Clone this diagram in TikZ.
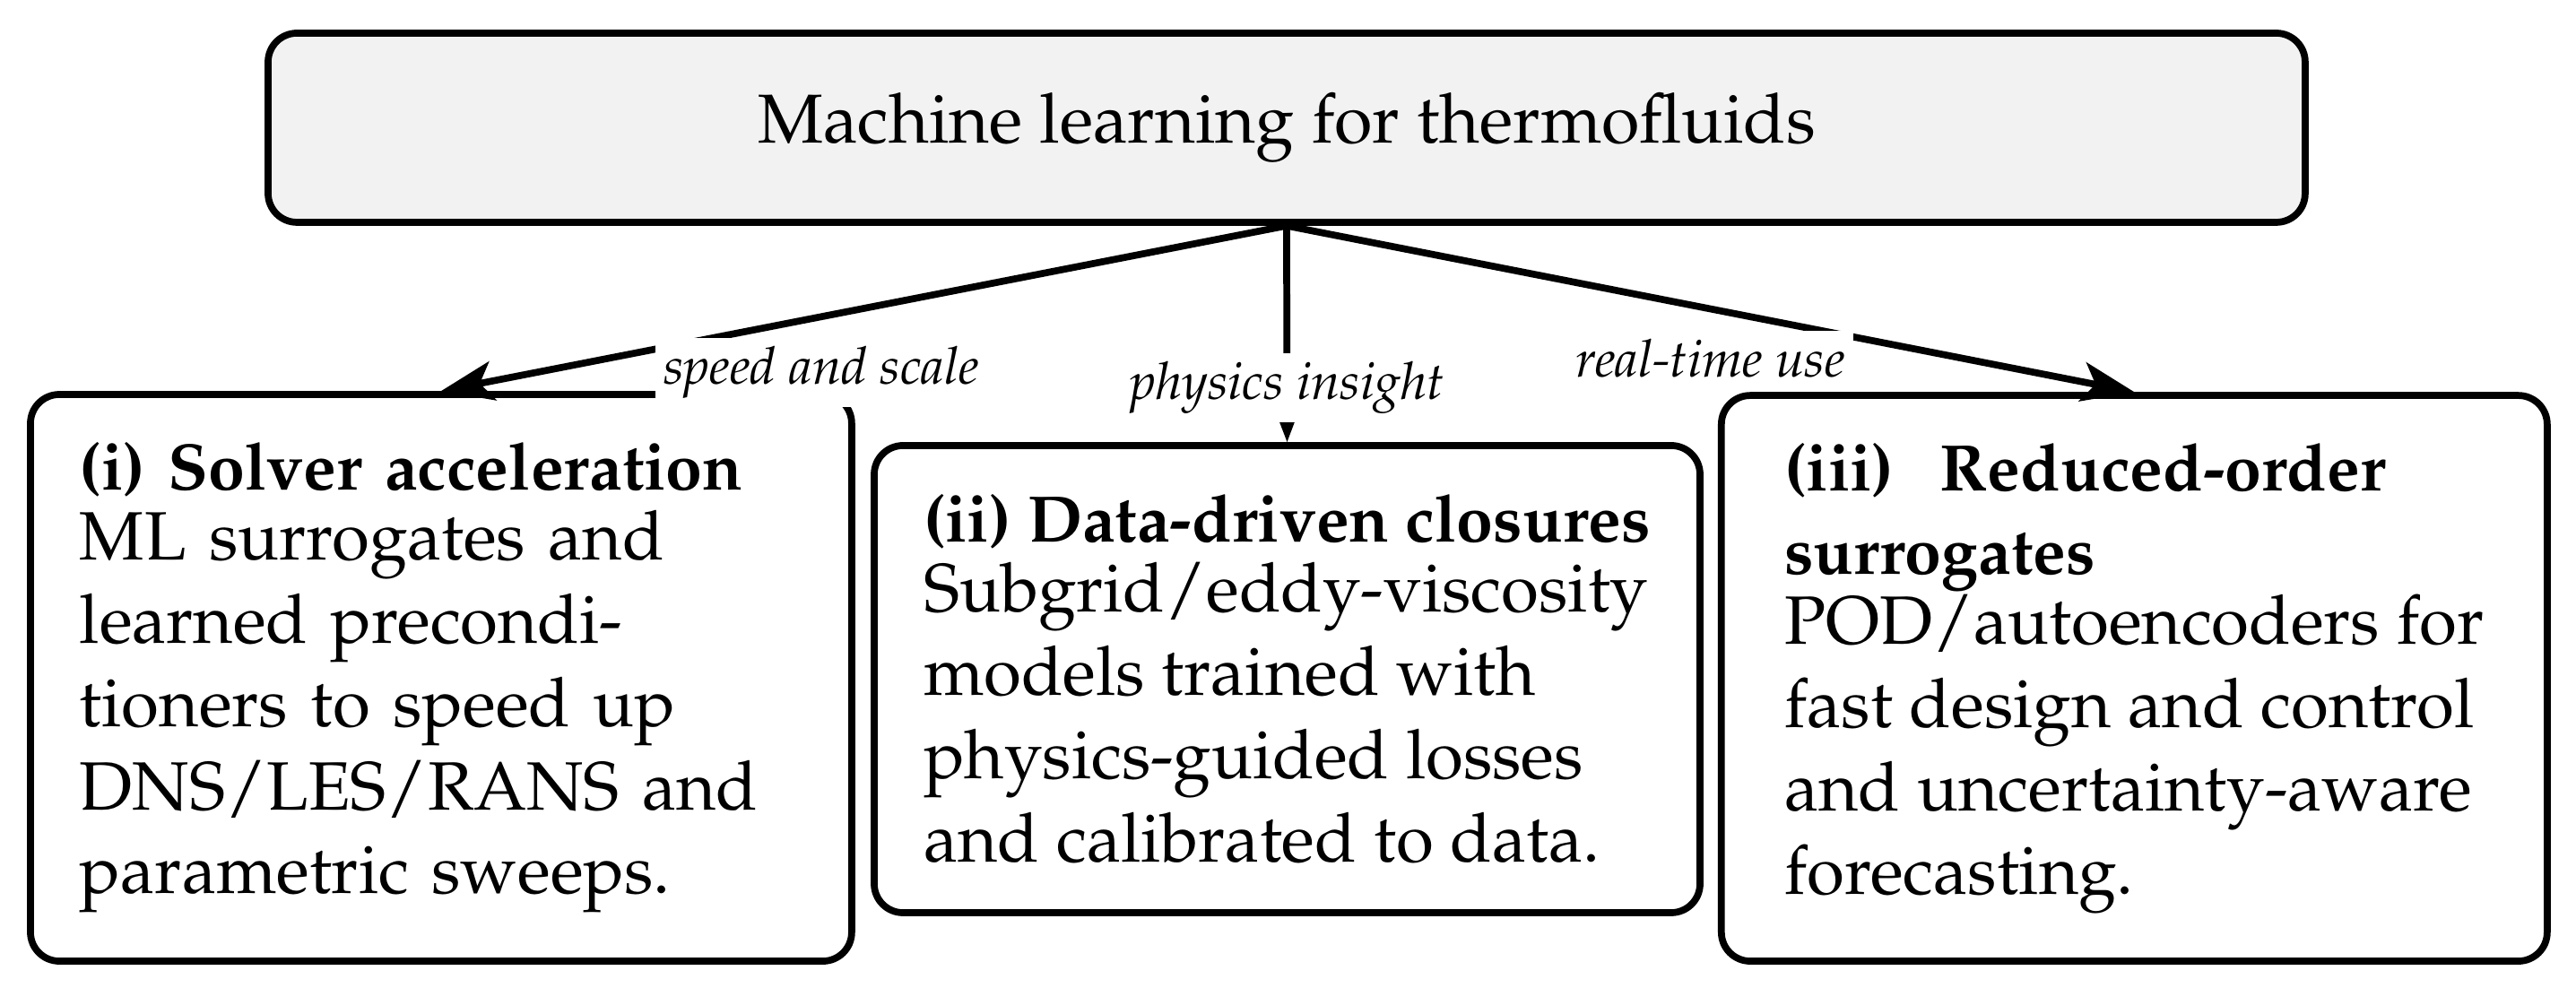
\documentclass[tikz,border=0pt]{standalone}
\usepackage[T1]{fontenc}
\usepackage{mathpazo}
\usetikzlibrary{arrows.meta}

\begin{document}
\begin{tikzpicture}
                    \tikzstyle{topic}=[draw=black,line width=1.2pt,rounded corners=5pt,fill=black!5,inner sep=0pt,minimum width=12.405cm,minimum height=1.152cm,font=\fontsize{12}{14.5}\selectfont]
                    \tikzstyle{branch}=[draw=black,line width=1.2pt,rounded corners=5pt,inner xsep=0.3cm,inner ysep=0.1cm,align=left,font=\fontsize{11.85}{14.45}\selectfont]
                    \tikzstyle{edgelabel}=[fill=white,inner sep=1.5pt,font=\fontsize{9}{11}\selectfont\itshape]
                    \tikzstyle{link}=[line width=1.2pt,-{Stealth[length=3.2mm,width=2.4mm,inset=0.8mm]}]
                    \newcommand{\headline}[1]{{\fontsize{11.4}{14.45}\selectfont\bfseries #1}}

                    \useasboundingbox (0,0) rectangle (15.687,6.017);

                    \node (ml) at (7.835,5.239) [topic] {Machine learning for thermofluids};
                    \node (solver) at (2.686,1.889) [branch,text width=4.401cm,minimum height=3.451cm] {\headline{(i) Solver acceleration}\\[-2.3pt]
                        ML surrogates and\\ learned precondi-\\ tioners to speed up\\ DNS/LES/RANS and\\ parametric sweeps.};
                    \node (closure) at (7.838,1.881) [branch,minimum width=5.029cm,minimum height=2.845cm] {\headline{(ii) Data-driven closures}\\[-2.3pt]
                        Subgrid/eddy-viscosity\\ models trained with\\ physics-guided losses\\ and calibrated to data.};
                    \node (rom) at (12.997,1.886) [branch,minimum width=5.029cm,minimum height=3.445cm] {\headline{(iii)\hspace{0.7em}Reduced-order}\\ \headline{surrogates}\\[-2.3pt]
                        POD/autoencoders for\\ fast design and control\\ and uncertainty-aware\\ forecasting.};

                    \draw [link] (ml.south) -- node[edgelabel,pos=0.55,below=1.1mm] {speed and scale} (solver.north);
                    \draw [link] (ml.south) -- node[edgelabel,pos=0.75] {physics insight} (closure.north);
                    \draw [link] (ml.south) -- node[edgelabel,pos=0.5,below=1.1mm] {real-time use} (rom.north);
                \end{tikzpicture}
\end{document}
